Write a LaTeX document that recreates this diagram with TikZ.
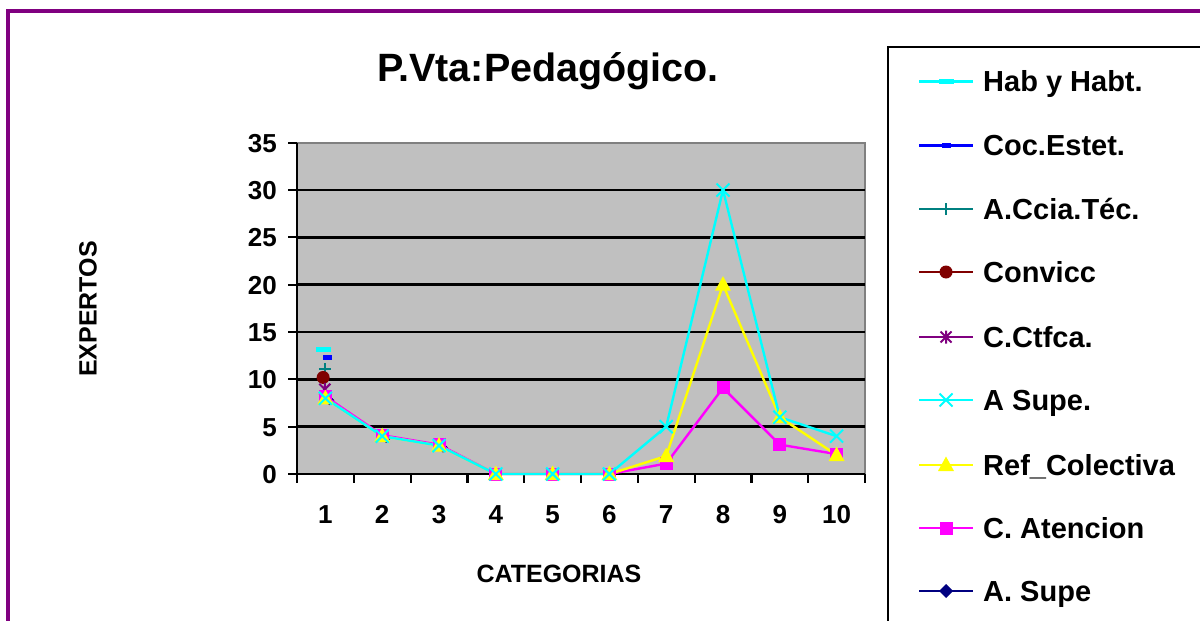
\documentclass[tikz,border=0pt]{standalone}
\usepackage{fontspec}
\setmainfont{Liberation Sans}
\usetikzlibrary{shapes.geometric}
\definecolor{pframe}{HTML}{800080}
\definecolor{plotgray}{HTML}{C0C0C0}
\definecolor{bordergray}{HTML}{808080}
\definecolor{scyan}{HTML}{00FFFF}
\definecolor{sblue}{HTML}{0000FF}
\definecolor{steal}{HTML}{008080}
\definecolor{sdred}{HTML}{800000}
\definecolor{spurple}{HTML}{800080}
\definecolor{syellow}{HTML}{FFFF00}
\definecolor{smagenta}{HTML}{FF00FF}
\definecolor{snavy}{HTML}{000080}
\tikzset{
  mkdashwide/.pic={\fill (-7.5pt,-2.5pt) rectangle (7.5pt,2.5pt);},
  mkdashshort/.pic={\fill (-4.5pt,-2.5pt) rectangle (4.5pt,2.5pt);},
  mkplus/.pic={\draw[line width=2pt] (-6pt,0) -- (6pt,0) (0,-6pt) -- (0,6pt);},
  mkcirc/.pic={\fill (0,0) circle (6.5pt);},
  mkstar/.pic={\draw[line width=2pt] (-5.5pt,-5.5pt) -- (5.5pt,5.5pt) (-5.5pt,5.5pt) -- (5.5pt,-5.5pt) (0,-6.5pt) -- (0,6.5pt);},
  mkx/.pic={\draw[line width=2pt] (-6.5pt,-6.5pt) -- (6.5pt,6.5pt) (-6.5pt,6.5pt) -- (6.5pt,-6.5pt);},
  mktri/.pic={\fill (0,8.5pt) -- (-8pt,-6pt) -- (8pt,-6pt) -- cycle;},
  mksq/.pic={\fill (-6.5pt,-6.5pt) rectangle (6.5pt,6.5pt);},
  mkdiam/.pic={\fill (0,7pt) -- (7pt,0) -- (0,-7pt) -- (-7pt,0) -- cycle;},
  serline/.style={line width=2.4pt, line join=round},
  ticklab/.style={font=\fontsize{26}{28}\selectfont\bfseries, inner sep=0pt},
  axtitle/.style={font=\fontsize{25}{28}\selectfont\bfseries, inner sep=0pt},
  legtext/.style={font=\fontsize{29}{32}\selectfont\bfseries, inner sep=0pt, anchor=base west},
}
\newcommand{\legentry}[5]{%
  \draw[#2, line width=2.2pt] (919,#1) -- (973,#1);
  \pic[#2] at (946,#1) {#3};
  \node[legtext] (#5) at (983,#1+10) {#4};
}
\begin{document}
\begin{tikzpicture}[x=1pt,y=-1pt]
\useasboundingbox (0,0) rectangle (1200,621);
\clip (0,0) rectangle (1200,621);
\fill[white] (0,0) rectangle (1200,621);
% outer frame
\draw[pframe, line width=3.2pt] (8,11) rectangle (1230,650);
% title
\node[font=\fontsize{39.5}{42}\selectfont\bfseries, inner sep=0pt, anchor=base] (title) at (548,81) {P.Vta:Pedagógico.};
% plot area
\fill[plotgray] (297,143) rectangle (865,474);
\draw[bordergray, line width=1.5pt] (297,143) -- (865,143) -- (865,474);
\foreach \v in {5,10,...,30} {
  \pgfmathsetmacro\py{474-9.466*\v}
  \draw[line width=2.4pt] (297,\py) -- (865,\py);
}
\foreach \v in {0,5,...,35} {
  \pgfmathsetmacro\py{474-9.466*\v}
  \draw[line width=2.2pt] (288,\py) -- (297,\py);
  \node[ticklab, anchor=base east] (yl\v) at (277,\py+9.5) {\v};
}
\foreach \k in {0,...,10} {
  \pgfmathsetmacro\px{297+56.8*\k}
  \draw[line width=2.2pt] (\px,474) -- (\px,483);
}
\foreach \i in {1,...,10} {
  \pgfmathsetmacro\px{297+56.8*(\i-0.5)}
  \node[ticklab, anchor=base] (xl\i) at (\px,523) {\i};
}
\draw[line width=2.4pt] (297,143) -- (297,474) -- (865,474);
% axis titles
\node[axtitle, rotate=90] (ytitle) at (88,309) {EXPERTOS};
\node[axtitle, anchor=base] (xtitle) at (559,582) {CATEGORIAS};
% data
\begin{scope}[shift={(268.6,474)}, x=56.8pt, y=9.466pt]
  \foreach \i/\c/\yv/\m in {1/8/8/8.2, 2/4/4/4.1, 3/3/3/3.1, 4/0/0/0, 5/0/0/0, 6/0/0/0, 7/5/1.9/1.1, 8/30/20/9.1, 9/6/6/3.1, 10/4/2/2.1} {
    \coordinate (c\i) at (\i,\c);
    \coordinate (y\i) at (\i,\yv);
    \coordinate (m\i) at (\i,\m);
  }
  \coordinate (hab) at (0.975,13.2);
  \coordinate (coc) at (1.03,12.3);
  \coordinate (acc) at (0.99,11.05);
  \coordinate (con) at (0.96,10.2);
  \coordinate (cct) at (0.99,8.95);
  % navy series (mostly hidden)
  \foreach \i in {1,2,3} { \pic[snavy, scale=0.7] at ([xshift=4pt,yshift=-2pt]c\i) {mkdiam}; }
  % single points at category 1
  \pic[scyan] at (hab) {mkdashwide};
  \pic[sblue] at (coc) {mkdashshort};
  \pic[steal] at (acc) {mkplus};
  \pic[sdred] at (con) {mkcirc};
  \pic[spurple] at (cct) {mkstar};
  % lines
  \draw[smagenta, serline] (m1) \foreach \i in {2,...,10} { -- (m\i) };
  \draw[syellow, serline] (y1) \foreach \i in {2,...,10} { -- (y\i) };
  \draw[scyan, serline] (c1) \foreach \i in {2,...,10} { -- (c\i) };
  % markers
  \foreach \i in {1,...,10} { \pic[smagenta] at (m\i) {mksq}; }
  \foreach \i in {1,...,10} { \pic[syellow] at (y\i) {mktri}; }
  \foreach \i in {1,...,10} { \pic[scyan] at (c\i) {mkx}; }
\end{scope}
% legend
\draw[line width=2.4pt] (888,47) rectangle (1230,650);
\legentry{81.5}{scyan}{mkdashwide}{Hab y Habt.}{leg1}
\legentry{145.5}{sblue}{mkdashshort}{Coc.Estet.}{leg2}
\legentry{209}{steal}{mkplus}{A.Ccia.Téc.}{leg3}
\legentry{272}{sdred}{mkcirc}{Convicc}{leg4}
\legentry{337}{spurple}{mkstar}{C.Ctfca.}{leg5}
\legentry{400}{scyan}{mkx}{A Supe.}{leg6}
\legentry{465}{syellow}{mktri}{Ref\_Colectiva}{leg7}
\legentry{528}{smagenta}{mksq}{C. Atencion}{leg8}
\legentry{591}{snavy}{mkdiam}{A. Supe}{leg9}
\end{tikzpicture}
\end{document}
